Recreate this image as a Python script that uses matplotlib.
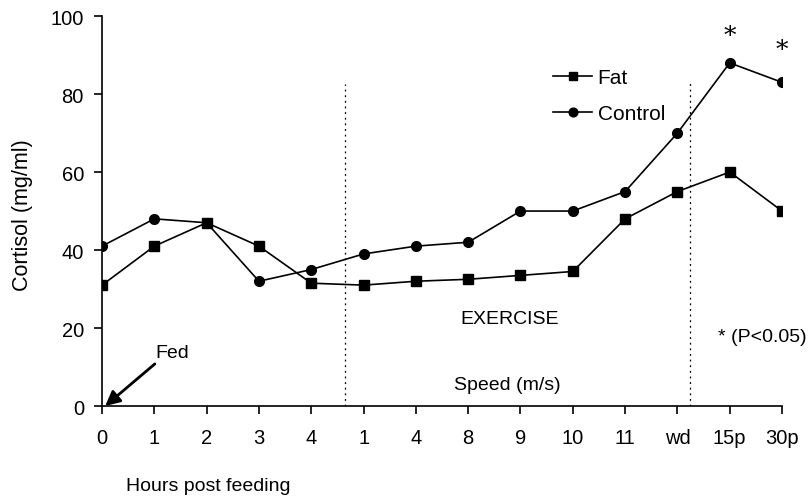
import numpy as np
import matplotlib.pyplot as plt

plt.rcParams['font.family'] = ['Liberation Sans', 'DejaVu Sans']

# Data
labels = ['0', '1', '2', '3', '4', '1', '4', '8', '9', '10', '11', 'wd', '15p', '30p']
fat = [31, 41, 47, 41, 31.5, 31, 32, 32.5, 33.5, 34.5, 48, 55, 60, 50]
control = [41, 48, 47, 32, 35, 39, 41, 42, 50, 50, 55, 70, 88, 83]
x = np.arange(len(labels))

fig = plt.figure(figsize=(8.11, 5.02), dpi=100)
ax = fig.add_axes([0.1258, 0.1892, 0.8385, 0.7768])

ax.plot(x, fat, color='black', lw=1.2, marker='s', ms=6.5, label='Fat')
ax.plot(x, control, color='black', lw=1.2, marker='o', ms=7, label='Control')

# dotted separators
ax.vlines(4.65, 0, 82.5, colors='black', linestyles=(0, (1.5, 3)), lw=0.9)
ax.vlines(11.24, 0, 83, colors='black', linestyles=(0, (1.5, 3)), lw=0.9)

ax.set_xlim(0, 13)
ax.set_ylim(0, 100)
ax.set_xticks(x)
ax.set_xticklabels(labels, fontsize=14.5)
ax.set_yticks([0, 20, 40, 60, 80, 100])
ax.tick_params(axis='y', labelsize=14.5, length=6, width=1.2, pad=7)
ax.tick_params(axis='x', length=6, width=1.2, pad=10)
for s in ['top', 'right']:
    ax.spines[s].set_visible(False)
for s in ['left', 'bottom']:
    ax.spines[s].set_linewidth(1.2)
fig.text(23 / 811, 1 - 215 / 502, 'Cortisol (mg/ml)', rotation=90,
         ha='center', va='center', fontsize=15.5)

leg = ax.legend(loc='upper left', bbox_to_anchor=(0.663, 0.866), frameon=False,
                fontsize=15, handlelength=1.9, labelspacing=0.8,
                handletextpad=0.25, borderpad=0, borderaxespad=0, markerscale=0.9)

# annotations
ax.text(7.8, 22.5, 'EXERCISE', ha='center', va='center', fontsize=14)
ax.text(7.74, 5.6, 'Speed (m/s)', ha='center', va='center', fontsize=14)
ax.text(12.62, 17.7, '* (P<0.05)', ha='center', va='center', fontsize=14)
ax.text(12.0, 94.9, '*', ha='center', va='center', fontsize=18, family='DejaVu Serif')
ax.text(13.0, 91.5, '*', ha='center', va='center', fontsize=18, family='DejaVu Serif')
ax.annotate('', xy=(0.06, 0), xytext=(1.01, 10.8),
            arrowprops=dict(arrowstyle='-|>', color='black', lw=2,
                            mutation_scale=22, shrinkA=0, shrinkB=0),
            annotation_clip=False)
ax.text(1.34, 13.8, 'Fed', ha='center', va='center', fontsize=14)
fig.text(208 / 811, 1 - 487 / 502, 'Hours post feeding', fontsize=14,
         ha='center', va='center')

fig.savefig('out.png', dpi=100)
